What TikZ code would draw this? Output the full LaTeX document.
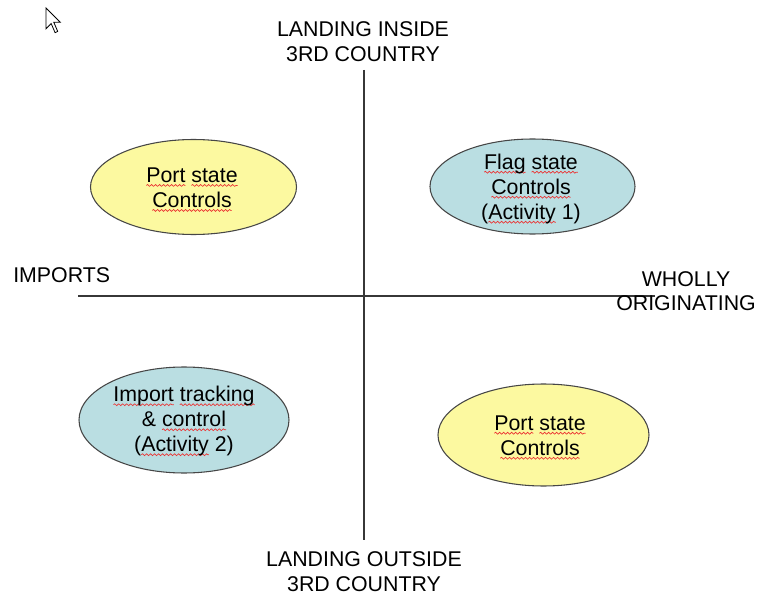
\documentclass[tikz,border=0pt]{standalone}
\usepackage{fontspec}
\setmainfont{Liberation Sans}
\usetikzlibrary{shapes.geometric,decorations.pathmorphing}

\definecolor{ovalyellow}{RGB}{252,249,160}
\definecolor{ovalblue}{RGB}{186,222,226}
\definecolor{axisgray}{RGB}{55,55,55}
\definecolor{outlinegray}{RGB}{70,70,70}
\definecolor{spellred}{RGB}{235,50,50}

% red wavy underline under flagged words
\newlength\spellwd
\newcommand\spell[1]{\settowidth\spellwd{#1}\makebox[0pt][l]{\tikz[overlay,baseline=0pt]\draw[spellred, line width=0.5pt, decorate, decoration={snake, amplitude=0.7pt, segment length=3pt}] (0pt,-2.4pt) -- (\spellwd,-2.4pt);}#1}

\begin{document}
\begin{tikzpicture}[x=0.75pt,y=-0.75pt,
  txt/.style={font=\fontsize{16pt}{18.75pt}\selectfont, inner sep=0pt, align=center, text=black},
  oval/.style={ellipse, draw=outlinegray, line width=0.8pt, inner sep=0pt},
  yellowoval/.style={oval, fill=ovalyellow},
  blueoval/.style={oval, fill=ovalblue},
  axisline/.style={draw=axisgray, line width=1.1pt}]

\useasboundingbox[fill=white] (0,0) rectangle (757,599);

% mouse pointer
\draw[fill=white, draw=black, line width=0.6pt, line join=miter]
  (46,8) -- (46,28.8) -- (51.2,23.6) -- (55.1,32.7) -- (57.7,31.4)
  -- (53.8,22.3) -- (60.3,22.3) -- cycle;

% axes
\coordinate (ytop) at (364,70);
\coordinate (ybot) at (364,540);
\coordinate (xleft) at (78,296);
\coordinate (xright) at (655,296);
\draw[axisline] (ytop) -- (ybot);
\draw[axisline] (xleft) -- (xright);

% axis labels
\node[txt, anchor=north] (landin) at (363,21.7) {LANDING INSIDE\\3RD COUNTRY};
\node[txt, anchor=north] (landout) at (364,551.7) {LANDING OUTSIDE\\3RD COUNTRY};
\node[txt, anchor=base west] (imports) at (13,282) {IMPORTS};
\node[txt, anchor=north, font=\fontsize{16pt}{17.8pt}\selectfont] (wholly) at (686,271.7) {WHOLLY\\ORIGINATING};

% quadrant ovals
\node[yellowoval, minimum width=154.5pt, minimum height=71.25pt] (portA) at (193.5,187) {};
\node[txt] (portAt) at (192,187.5) {\spell{Port} \spell{state}\\\spell{Controls}};

\node[blueoval, minimum width=153.75pt, minimum height=71.25pt] (flag) at (532.5,186.5) {};
\node[txt] (flagt) at (531,188.5) {\spell{Flag} \spell{state}\\\spell{Controls}\\(\spell{Activity} 1)};

\node[blueoval, minimum width=157.5pt, minimum height=79.5pt] (imp) at (184,420) {};
\node[txt] (impt) at (184,421) {\spell{Import} \spell{tracking}\\\& \spell{control}\\(\spell{Activity} 2)};

\node[yellowoval, minimum width=158.25pt, minimum height=76.5pt] (portB) at (543.5,435) {};
\node[txt] (portBt) at (540,435.3) {\spell{Port} \spell{state}\\\spell{Controls}};

\end{tikzpicture}
\end{document}
